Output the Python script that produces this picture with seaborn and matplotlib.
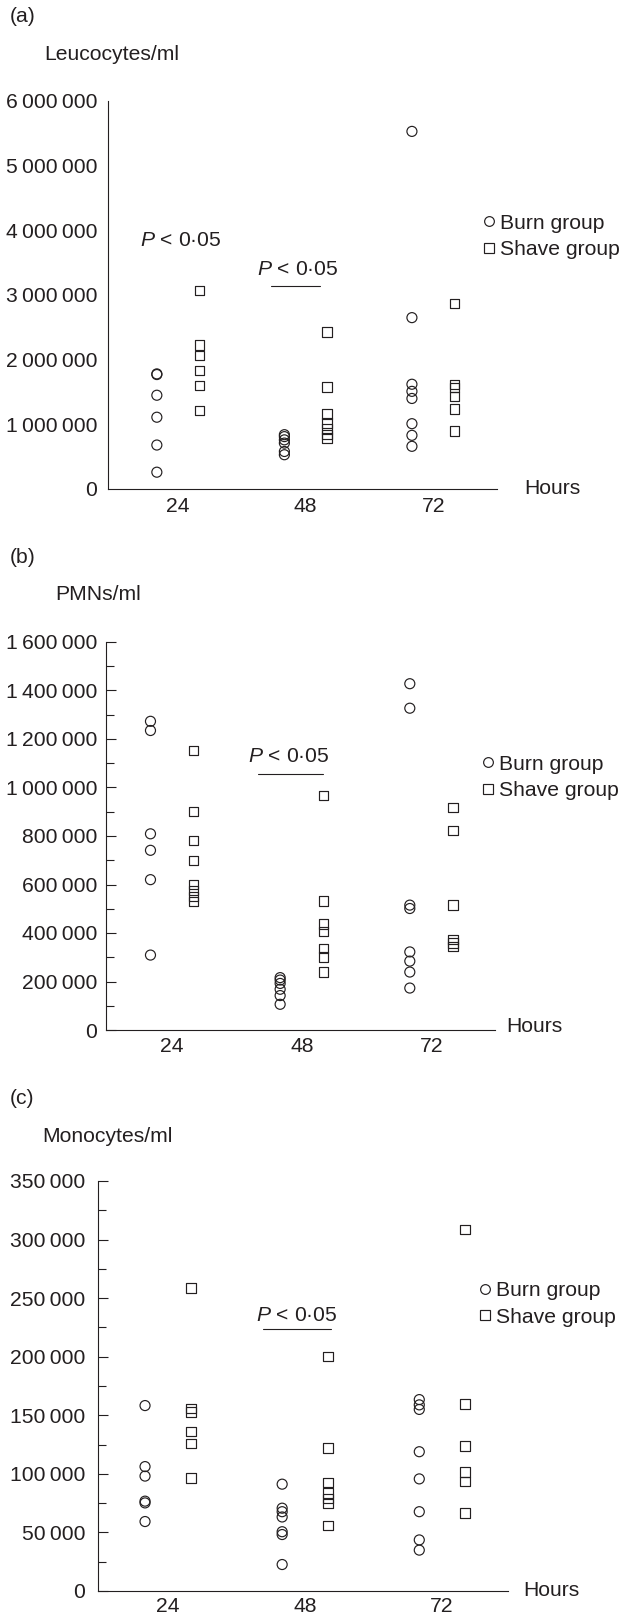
import numpy as np
import pandas as pd
import matplotlib
matplotlib.use("Agg")
import matplotlib.pyplot as plt
import seaborn as sns
from matplotlib.lines import Line2D
from matplotlib.ticker import MultipleLocator, FuncFormatter

# ---------------- data ----------------
hours = ["24", "48", "72"]
groups = ["Burn group", "Shave group"]

# (a) Leucocytes/ml
leuco_burn = {
    "24": [1780000, 1770000, 1450000, 1110000, 680000, 260000],
    "48": [840000, 810000, 760000, 710000, 580000, 530000],
    "72": [5530000, 2650000, 1620000, 1510000, 1400000, 1010000, 830000, 660000],
}
leuco_shave = {
    "24": [3070000, 2230000, 2060000, 1830000, 1600000, 1210000],
    "48": [2430000, 1580000, 1160000, 1020000, 930000, 840000, 790000],
    "72": [2870000, 1620000, 1570000, 1430000, 1240000, 900000],
}

# (b) PMNs/ml
pmn_burn = {
    "24": [1273000, 1235000, 809000, 741000, 620000, 309000],
    "48": [216000, 206000, 192000, 168000, 142000, 106000],
    "72": [1428000, 1327000, 515000, 501000, 322000, 284000, 239000, 173000],
}
pmn_shave = {
    "24": [1153000, 901000, 781000, 698000, 600000, 575000, 550000, 530000],
    "48": [968000, 532000, 437000, 405000, 336000, 301000, 239000],
    "72": [918000, 823000, 515000, 372000, 358000, 344000],
}

# (c) Monocytes/ml
mono_burn = {
    "24": [158300, 106200, 98100, 76700, 75200, 59300],
    "48": [91200, 70700, 67700, 63200, 50600, 48200, 22600],
    "72": [163400, 158900, 155000, 118900, 95700, 67700, 43600, 34900],
}
mono_shave = {
    "24": [258800, 155900, 152900, 136400, 125800, 96600],
    "48": [200400, 121900, 92700, 83700, 79200, 74600, 55700],
    "72": [308800, 159500, 123700, 101700, 93300, 66500],
}

panel_letters = ["(a)", "(b)", "(c)"]
y_titles = ["Leucocytes/ml", "PMNs/ml", "Monocytes/ml"]
y_max = [6000000, 1600000, 350000]
y_major = [1000000, 200000, 50000]
y_minor = [None, 100000, 25000]
p_label = r"$P$ < 0·05"

# ---------------- style ----------------
sns.set_theme(style="white")
plt.rcParams["font.family"] = ["Liberation Sans", "DejaVu Sans"]
plt.rcParams["mathtext.fontset"] = "custom"
plt.rcParams["mathtext.it"] = "Liberation Sans:italic"
plt.rcParams["mathtext.rm"] = "Liberation Sans"
INK = "#231f20"
FS = 15.2

W, H = 621, 1613
fig = plt.figure(figsize=(W / 100, H / 100), dpi=100)
fig.patch.set_facecolor("white")


def rect(l, t, r, b):
    return [l / W, 1 - b / H, (r - l) / W, (b - t) / H]


def long_df(burn, shave):
    rows = []
    for g, d in zip(groups, [burn, shave]):
        for hi, h in enumerate(hours):
            for v in d[h]:
                rows.append({"hour": hi, "group": g, "value": v})
    df = pd.DataFrame(rows)
    off = {"Burn group": -0.167, "Shave group": 0.167}
    df["xpos"] = df["hour"] + df["group"].map(off)
    return df


panels = [
    dict(rect=(108, 101, 497, 489), xlim=(-0.55, 2.5), data=(leuco_burn, leuco_shave),
         ypad=7.6, xpad=6.0, ticks=False,
         letter=(10, 17), title=(44.6, 55), hours=(524, 489), legend=(483, 236.5),
         ptexts=[(0.02, 3850000, None), (0.94, 3400000, (0.73, 1.11, 3140000))]),
    dict(rect=(106, 642, 495, 1030), xlim=(-0.51, 2.49), data=(pmn_burn, pmn_shave),
         ypad=6.4, xpad=4.8, ticks=True,
         letter=(10, 558), title=(55, 594.5), hours=(506, 1027), legend=(481.6, 777.5),
         ptexts=[(0.90, 1126000, (0.66, 1.16, 1056000))]),
    dict(rect=(98, 1181, 508, 1591), xlim=(-0.51, 2.48), data=(mono_burn, mono_shave),
         ypad=9.0, xpad=4.5, ticks=True,
         letter=(9.7, 1099), title=(42.6, 1136), hours=(523, 1590), legend=(479, 1304),
         ptexts=[(0.94, 235600, (0.69, 1.19, 223700))]),
]

fmt = FuncFormatter(lambda v, p: f"{int(round(v)):,}".replace(",", "\u2009"))

for i, P in enumerate(panels):
    l, t, r, b = P["rect"]
    ax = fig.add_axes(rect(l, t, r, b))
    ax.set_facecolor("white")
    df = long_df(*P["data"])
    for g, m, s in [("Burn group", "o", 52), ("Shave group", "s", 46)]:
        sub = df[df["group"] == g]
        sns.scatterplot(data=sub, x="xpos", y="value", marker=m, s=s,
                        facecolor="none", edgecolor=INK, linewidth=0.85,
                        ax=ax, legend=False, clip_on=False, zorder=3)
    ax.set_xlim(*P["xlim"])
    ax.set_ylim(0, y_max[i])
    ax.set_xticks(range(len(hours)))
    ax.set_xticklabels(hours)
    ax.yaxis.set_major_locator(MultipleLocator(y_major[i]))
    ax.yaxis.set_major_formatter(fmt)
    if y_minor[i]:
        ax.yaxis.set_minor_locator(MultipleLocator(y_minor[i]))
    for s_ in ["top", "right"]:
        ax.spines[s_].set_visible(False)
    for s_ in ["left", "bottom"]:
        ax.spines[s_].set_color(INK)
        ax.spines[s_].set_linewidth(0.8)
    ax.tick_params(axis="x", length=0, pad=P["xpad"], labelsize=FS, colors=INK)
    if P["ticks"]:
        ax.tick_params(axis="y", which="major", direction="in", length=7.2, width=0.8,
                       pad=P["ypad"], labelsize=FS, colors=INK, left=True)
        ax.tick_params(axis="y", which="minor", direction="in", length=5.4, width=0.8,
                       colors=INK, left=True)
    else:
        ax.tick_params(axis="y", length=0, pad=P["ypad"], labelsize=FS, colors=INK)
    ax.grid(False)

    # axis titles
    ax.set_ylabel(y_titles[i], rotation=0, ha="left", va="center", fontsize=FS, color=INK)
    ax.yaxis.set_label_coords((P["title"][0] - l) / (r - l), (b - P["title"][1]) / (b - t))
    ax.set_xlabel("Hours", ha="left", va="center", fontsize=FS, color=INK)
    ax.xaxis.set_label_coords((P["hours"][0] - l) / (r - l), (b - P["hours"][1]) / (b - t))

    fig.text(P["letter"][0] / W, 1 - P["letter"][1] / H, panel_letters[i],
             ha="left", va="center", fontsize=FS, color=INK)

    # significance annotations
    for xt, yt, line in P["ptexts"]:
        ax.text(xt, yt, p_label, ha="center", va="center", fontsize=FS, color=INK)
        if line:
            ax.plot([line[0], line[1]], [line[2], line[2]], color=INK, lw=0.8,
                    clip_on=False)

    # legend
    handles = [
        Line2D([], [], ls="none", marker="o", markersize=7.0, mfc="none", mec=INK, mew=0.85),
        Line2D([], [], ls="none", marker="s", markersize=6.8, mfc="none", mec=INK, mew=0.85),
    ]
    ax.legend(handles, groups, loc="center left",
              bbox_to_anchor=(P["legend"][0] / W, 1 - P["legend"][1] / H),
              bbox_transform=fig.transFigure, frameon=False, fontsize=FS,
              borderpad=0, borderaxespad=0, handlelength=0.6, handletextpad=0.22,
              labelspacing=0.36, labelcolor=INK)

fig.savefig("out.png", dpi=100, facecolor="white")
